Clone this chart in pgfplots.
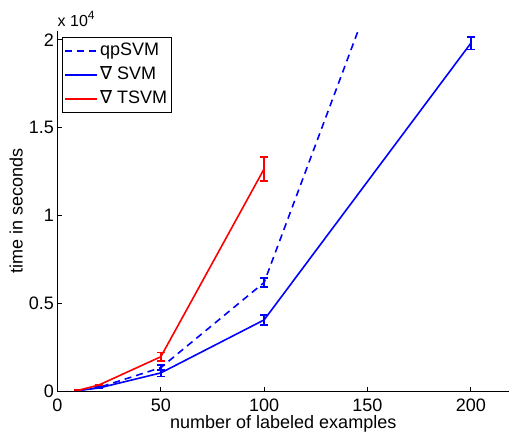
\documentclass[border=0pt]{standalone}
\usepackage{pgfplots}
\pgfplotsset{compat=1.18}
\usepackage{fontspec}
\setmainfont{Liberation Sans}
\newfontfamily\dejavu{DejaVu Sans}
\definecolor{mblue}{RGB}{0,0,255}
\definecolor{mred}{RGB}{255,0,0}
\begin{document}
\begin{tikzpicture}
\begin{axis}[
  scale only axis, width=451.5pt, height=360pt,
  xmin=0, xmax=218.5, ymin=0, ymax=20500,
  axis lines=left, axis line style={-, line width=0.8pt},
  tick align=inside, major tick length=4pt,
  every tick/.style={black, line width=0.8pt},
  xtick={0,50,100,150,200}, ytick={0,5000,10000,15000,20000},
  yticklabels={0,0.5,1,1.5,2},
  scaled y ticks=false,
  /pgf/number format/assume math mode=true,
  tick label style={font=\fontsize{18}{20}\selectfont},
  xticklabel style={yshift=-4pt},
  xlabel={number of labeled examples}, ylabel={time in seconds},
  xlabel style={font=\fontsize{18}{20}\selectfont, at={(axis description cs:0.5,0)}, anchor=north, inner sep=0pt, yshift=-24pt},
  ylabel style={font=\fontsize{18}{20}\selectfont, at={(axis description cs:0,0.5)}, rotate=0, anchor=south, inner sep=0pt, yshift=34.5pt},
  legend style={at={(rel axis cs:0.01,0.983)}, anchor=north west, font=\fontsize{18}{20}\selectfont,
    draw=black, line width=0.8pt, inner xsep=2pt, inner ysep=1.5pt,
    nodes={inner xsep=2pt, inner ysep=3.5pt, text height=13pt, text depth=4pt}},
  legend cell align=left,
  legend image code/.code={\draw[#1, line width=1.6pt] (0pt,0pt) -- (32pt,0pt);},
  clip=true,
]
\coordinate (bl) at (rel axis cs:0,0);
\coordinate (tr) at (rel axis cs:1,1);
\addplot[mblue, line width=1.6pt, dash pattern=on 7pt off 5pt,
  error bars/.cd, y dir=both, y explicit,
  error bar style={solid, line width=1.6pt},
  error mark options={rotate=90, mark size=4pt, line width=1.6pt, solid}]
  table[x=x, y=y, y error=e] {
x y e
10 30 10
20 200 20
50 1330 150
100 6180 250
200 37700 500
};
\addlegendentry{qpSVM}
\addplot[mblue, line width=1.6pt,
  error bars/.cd, y dir=both, y explicit,
  error bar style={line width=1.6pt},
  error mark options={rotate=90, mark size=4pt, line width=1.6pt}]
  table[x=x, y=y, y error=e] {
x y e
10 30 10
20 170 20
50 1030 200
100 4050 280
200 19800 350
};
\addlegendentry{{\dejavu ∇} SVM}
\addplot[mred, line width=1.6pt,
  error bars/.cd, y dir=both, y explicit,
  error bar style={line width=1.6pt},
  error mark options={rotate=90, mark size=4pt, line width=1.6pt}]
  table[x=x, y=y, y error=e] {
x y e
10 40 10
20 340 30
50 1950 250
100 12650 680
};
\addlegendentry{{\dejavu ∇} TSVM}
\end{axis}
\node[anchor=base west, inner sep=0pt, font=\fontsize{16}{18}\selectfont] at ([yshift=4.5pt]bl |- tr) {x 10\raisebox{7pt}{\fontsize{12}{14}\selectfont 4}};
\pgfresetboundingbox
\path ([shift={(-57.5pt,-41pt)}]bl) rectangle ([shift={(0pt,31pt)}]tr);
\end{tikzpicture}
\end{document}
